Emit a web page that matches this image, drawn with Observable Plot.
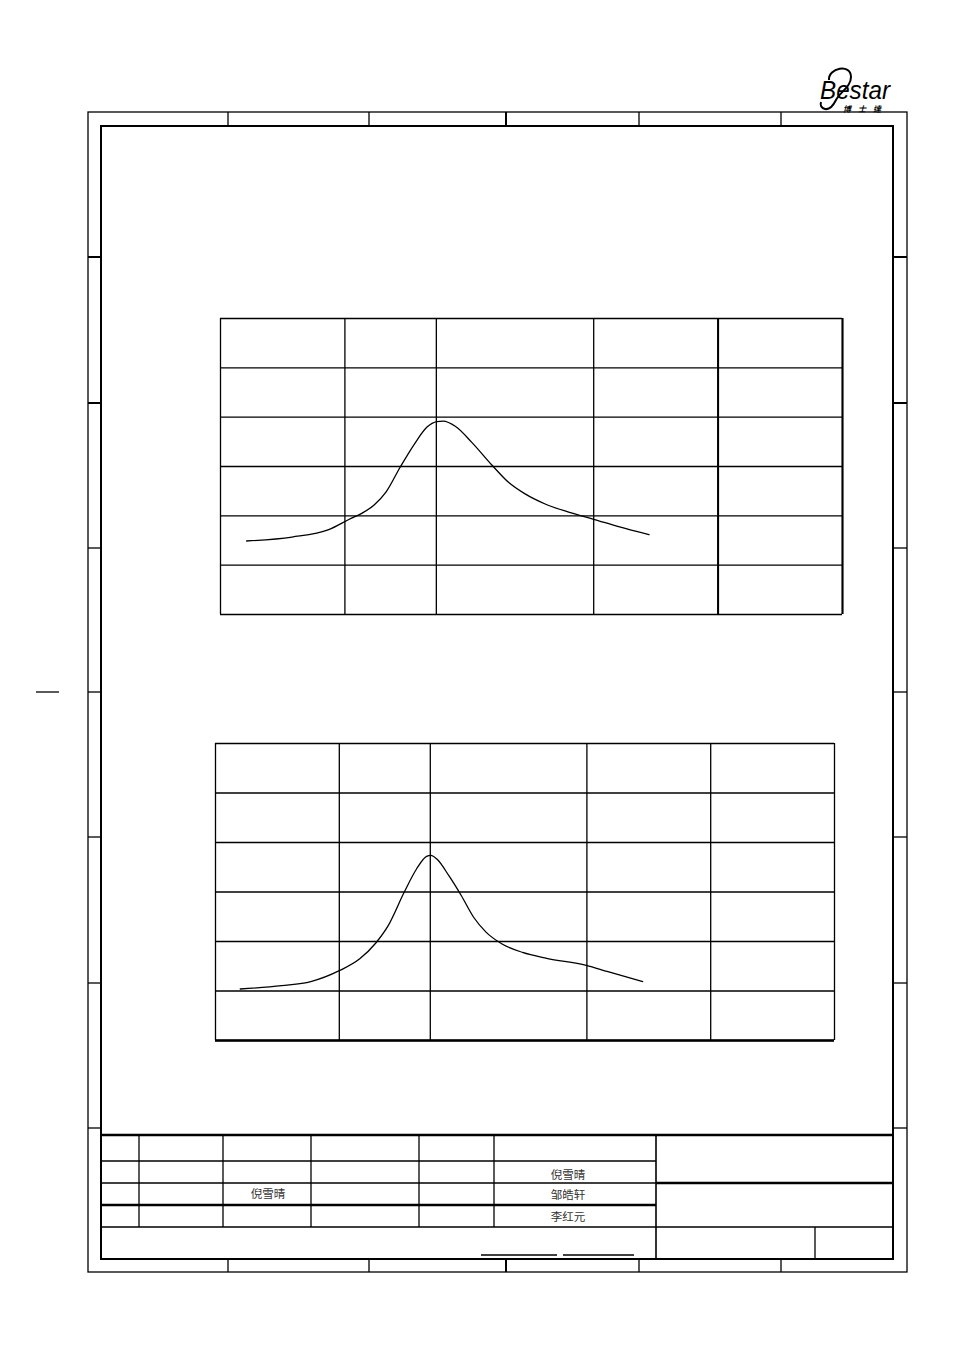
<!DOCTYPE html>
<html>
<head>
<meta charset="utf-8">
<script src="https://cdn.jsdelivr.net/npm/d3@7"></script>
<script src="https://cdn.jsdelivr.net/npm/@observablehq/plot@0.6"></script>
<style>
  html, body { margin: 0; padding: 0; background: #fff; }
  #page { position: relative; width: 954px; height: 1351px; background: #fff; overflow: hidden; }
  #frame { position: absolute; left: 0; top: 0; }
  .chart { position: absolute; }
</style>
</head>
<body>
<div id="page">
  <svg id="frame" width="954" height="1351" xmlns="http://www.w3.org/2000/svg"></svg>
  <div id="c1" class="chart" style="left:210px;top:308px"></div>
  <div id="c2" class="chart" style="left:205px;top:733px"></div>
</div>
<script>
// ---- data ----
const xGrid = [0, 20, 34.7, 60, 80, 100];          // vertical grid positions (relative frequency axis)
const yGrid = [60, 70, 80, 90, 100, 110, 120];      // horizontal grid (dB)

const curve1X = [4.2, 11.5, 17.4, 20.7, 22.7, 24.7, 26.6, 28.9, 31.2, 33.2, 34.8, 35.8, 37.8, 40.4, 43.7, 46.3, 48.9, 52.2, 56.1, 60.0, 64.0, 68.9];
const curve1Y = [74.9, 75.7, 77.2, 79.3, 80.5, 82.2, 84.8, 89.9, 94.6, 98.0, 99.1, 99.2, 98.1, 94.9, 90.2, 86.8, 84.5, 82.4, 80.7, 79.3, 77.8, 76.2];

const curve2X = [4.0, 10.7, 15.4, 20.0, 23.3, 25.9, 27.9, 30.5, 32.5, 34.1, 34.8, 35.8, 37.7, 39.7, 41.7, 43.7, 46.3, 49.6, 53.5, 59.9, 63.4, 69.0];
const curve2Y = [70.4, 71.1, 71.9, 74.1, 76.5, 79.7, 83.2, 90.0, 94.7, 97.2, 97.4, 96.6, 93.3, 89.3, 84.9, 81.9, 79.5, 77.8, 76.6, 75.2, 73.9, 71.9];

const signers = ["倪雪晴", "倪雪晴", "邹皓轩", "李红元"];

// ---- charts ----
function makeChart(cx, cy, w, h, thickX, thickY) {
  const data = cx.map((x, i) => ({x, y: cy[i]}));
  return Plot.plot({
    width: w + 20, height: h + 20,
    marginLeft: 10, marginRight: 10, marginTop: 10, marginBottom: 10,
    x: {domain: [0, 100], axis: null},
    y: {domain: [60, 120], axis: null},
    style: {background: "transparent", overflow: "visible"},
    marks: [
      Plot.ruleY(yGrid, {stroke: "#000", strokeWidth: 1.3}),
      Plot.ruleX(xGrid, {stroke: "#000", strokeWidth: 1.3}),
      Plot.ruleX(thickX, {stroke: "#000", strokeWidth: 2}),
      Plot.ruleY(thickY, {stroke: "#000", strokeWidth: 2.4}),
      Plot.line(data, {x: "x", y: "y", curve: "monotone-x", stroke: "#000", strokeWidth: 1.3})
    ]
  });
}
document.getElementById("c1").appendChild(makeChart(curve1X, curve1Y, 622, 296, [80, 100], []));
document.getElementById("c2").appendChild(makeChart(curve2X, curve2Y, 619, 297, [], [60]));

// ---- drawing frame (static page furniture) ----
const svg = d3.select("#frame");
function ln(x1, y1, x2, y2, w) {
  svg.append("line").attr("x1", x1).attr("y1", y1).attr("x2", x2).attr("y2", y2)
    .attr("stroke", "#000").attr("stroke-width", w || 1.3);
}
svg.append("rect").attr("x", 88).attr("y", 112).attr("width", 819).attr("height", 1160)
  .attr("fill", "none").attr("stroke", "#000").attr("stroke-width", 1.3);
svg.append("rect").attr("x", 101).attr("y", 126).attr("width", 792).attr("height", 1133)
  .attr("fill", "none").attr("stroke", "#000").attr("stroke-width", 2);
[[228,1.3],[369,1.3],[506,2],[639,1.3],[781,1.3]].forEach(([x,w]) => { ln(x,112,x,126,w); ln(x,1259,x,1272,w); });
[[257,2],[403,2],[548,1.3],[692,1.3],[837,1.3],[983,1.3],[1128,1.3]].forEach(([y,w]) => { ln(88,y,101,y,w); ln(893,y,907,y,w); });
ln(36, 692, 59, 692, 1.3);

// title block
ln(101, 1135, 893, 1135, 2.4);
ln(101, 1161, 656, 1161, 1.3);
ln(101, 1183, 656, 1183, 1.3);
ln(656, 1183, 893, 1183, 2.4);
ln(101, 1205, 656, 1205, 2.4);
ln(101, 1227, 893, 1227, 1.3);
[139, 223, 311, 419, 494].forEach(x => ln(x, 1135, x, 1227, 1.3));
ln(656, 1135, 656, 1259, 1.6);
ln(815, 1227, 815, 1259, 1.3);
ln(481, 1255, 557, 1255, 1.3);
ln(563, 1255, 634, 1255, 1.3);

const tpos = [[568, 1179], [268, 1198], [568, 1199], [568, 1221]];
signers.forEach((s, i) => {
  svg.append("text").attr("x", tpos[i][0]).attr("y", tpos[i][1]).attr("text-anchor", "middle")
    .attr("font-family", "'Noto Sans CJK SC', sans-serif").attr("font-size", 11.5).attr("fill", "#333").text(s);
});

// logo
svg.append("path").attr("d", "M829,80 C828,68 851,63 851,77 C851,87 840,92 836,100 C833,106 830,110 825,109 C821,108 820,105 821,102")
  .attr("fill", "none").attr("stroke", "#000").attr("stroke-width", 2);
svg.append("text").attr("x", 820).attr("y", 99).attr("font-family", "'Liberation Sans', Arial, sans-serif")
  .attr("font-style", "italic").attr("font-size", 25).attr("textLength", 70).attr("lengthAdjust", "spacingAndGlyphs")
  .attr("fill", "#000").text("Bestar");
svg.append("text").attr("x", 843).attr("y", 112).attr("font-family", "'Noto Sans CJK TC', sans-serif")
  .attr("font-style", "italic").attr("font-weight", "bold").attr("font-size", 8).attr("textLength", 38)
  .attr("lengthAdjust", "spacing").attr("fill", "#000").text("博士達");
</script>
</body>
</html>
